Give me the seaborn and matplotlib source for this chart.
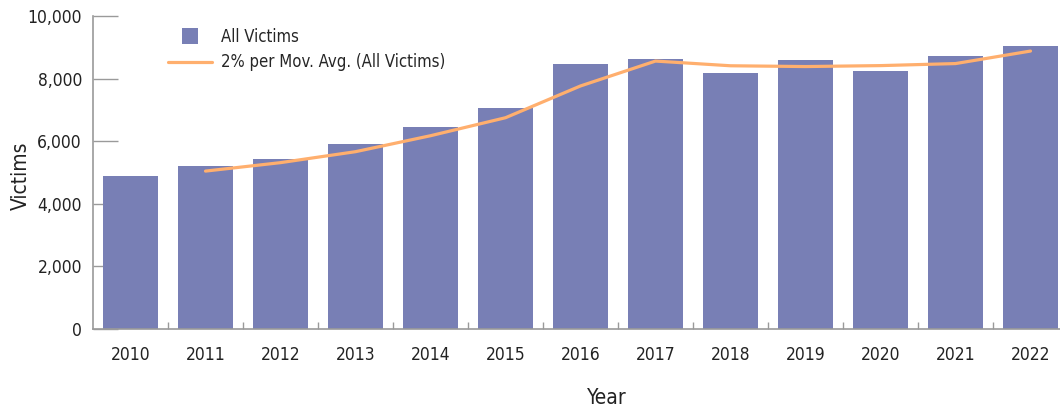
import numpy as np
import pandas as pd
import matplotlib
matplotlib.use("Agg")
import matplotlib.pyplot as plt
import seaborn as sns
from matplotlib.lines import Line2D
from matplotlib.ticker import FuncFormatter, FixedLocator

# data
years = ["2010", "2011", "2012", "2013", "2014", "2015", "2016",
         "2017", "2018", "2019", "2020", "2021", "2022"]
victims = [4890, 5200, 5430, 5900, 6450, 7050, 8480,
           8640, 8180, 8590, 8240, 8720, 9040]
# 2-period moving average, starts at 2011
ma_years = years[1:]
ma_values = [5045, 5315, 5665, 6175, 6750, 7765, 8560,
             8410, 8385, 8415, 8480, 8880]

BAR_COLOR = "#787fb5"
LINE_COLOR = "#ffaf6e"
GRID_GRAY = "#9a9a9a"
TEXT = "#222222"

sns.set_style("white")
plt.rcParams['font.family'] = ['Liberation Sans Narrow', 'DejaVu Sans']
plt.rcParams['font.stretch'] = 'condensed'

fig = plt.figure(figsize=(10.6, 4.13), dpi=100)
ax = fig.add_axes([93 / 1060, 1 - 329 / 413, 975 / 1060, 313 / 413])

bars = pd.DataFrame({"Year": years, "Victims": victims})
sns.barplot(data=bars, x="Year", y="Victims", color=BAR_COLOR, saturation=1,
            width=0.73, linewidth=0, ax=ax)

line = pd.DataFrame({"pos": [years.index(y) for y in ma_years], "val": ma_values})
sns.lineplot(data=line, x="pos", y="val", color=LINE_COLOR, linewidth=2.3, ax=ax)

ax.set_xlim(-0.5, len(years) - 0.5)
ax.set_ylim(0, 10000)
ax.set_yticks(np.arange(0, 10001, 2000))
ax.yaxis.set_major_formatter(FuncFormatter(lambda v, p: f"{int(v):,}"))

ax.set_xticks(range(len(years)))
ax.set_xticklabels(years)
ax.xaxis.set_minor_locator(FixedLocator(np.arange(0.5, len(years) - 1, 1.0)))

for s in ["top", "right"]:
    ax.spines[s].set_visible(False)
for s in ["left", "bottom"]:
    ax.spines[s].set_color(GRID_GRAY)
    ax.spines[s].set_linewidth(1.2)

ax.tick_params(axis="y", left=True, direction="in", length=18, width=1,
               color=GRID_GRAY, pad=8, labelsize=12.5, labelcolor=TEXT)
ax.tick_params(axis="x", which="major", bottom=True, length=0, pad=12,
               labelsize=12.5, labelcolor=TEXT)
ax.tick_params(axis="x", which="minor", bottom=True, direction="in", length=5,
               width=1, color=GRID_GRAY)

ax.set_xlabel("Year", fontsize=15, color=TEXT)
ax.set_ylabel("Victims", fontsize=15, color=TEXT)
ax.xaxis.set_label_coords(0.527, -0.19)
ax.yaxis.set_label_coords(-0.064, 0.49)

handles = [
    Line2D([], [], marker="s", linestyle="none", markersize=11,
           markeredgewidth=0, color=BAR_COLOR),
    Line2D([], [], color=LINE_COLOR, linewidth=2.3),
]
ax.legend(handles, ["All Victims", "2% per Mov. Avg. (All Victims)"],
          loc="upper left", bbox_to_anchor=(0.062, 1.01), frameon=False,
          fontsize=12, handlelength=2.6, handletextpad=0.55, labelspacing=0.45)

fig.savefig("out.png", dpi=100)
